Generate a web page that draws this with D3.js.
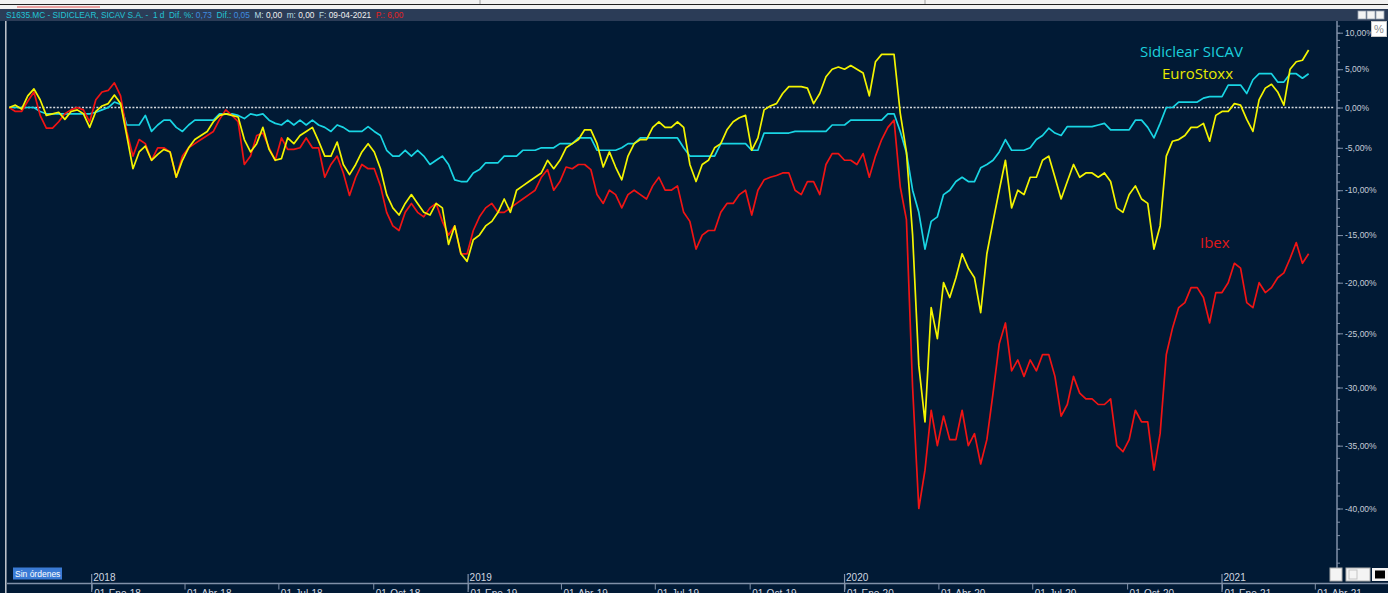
<!DOCTYPE html>
<html>
<head>
<meta charset="utf-8">
<script src="https://cdn.jsdelivr.net/npm/d3@7"></script>
<style>
  body { margin: 0; background: #011a35; overflow: hidden; }
  svg { display: block; }
  text { white-space: pre; }
</style>
</head>
<body>
<div class="graph"></div>
<script>
// sample dates (every 6 days) and % change since start
var dates = d3.timeDay.range(new Date(2017, 9, 13), new Date(2021, 2, 30), 6);

var sidiclear = [
  0, 0, 0, 0, 0, -0.5, -0.8, -0.8, -0.8, -0.8,
  -0.8, -0.8, -0.8, -0.8, -0.6, -0.3, 0, 0.7, 0.4, -2.2,
  -2.2, -2.2, -1.0, -3.0, -2.2, -1.6, -1.6, -2.5, -3.0, -2.2,
  -1.6, -1.6, -1.6, -1.6, -0.8, -0.8, -0.8, -1.0, -1.4, -0.8,
  -1.0, -0.8, -1.6, -2.0, -2.2, -1.6, -2.2, -1.6, -2.2, -1.6,
  -2.2, -2.5, -3.0, -2.2, -2.5, -3.0, -3.0, -3.0, -2.4, -3.0,
  -3.5, -5.3, -6.0, -6.0, -5.3, -6.0, -5.3, -6.0, -7.0, -6.5,
  -6.0, -7.0, -8.8, -9.0, -9.0, -8.0, -7.6, -6.8, -6.8, -6.8,
  -6.0, -6.0, -6.0, -5.3, -5.3, -5.3, -5.0, -5.0, -5.0, -4.5,
  -4.5, -4.5, -3.8, -3.8, -3.8, -5.3, -5.3, -5.3, -5.3, -5.0,
  -4.5, -4.5, -3.8, -3.8, -3.8, -3.8, -3.8, -3.8, -3.8, -5.0,
  -6.0, -6.0, -6.0, -6.0, -6.0, -4.5, -4.5, -4.5, -4.5, -4.5,
  -5.3, -5.3, -3.2, -3.2, -3.2, -3.2, -3.2, -3.0, -3.0, -3.0,
  -3.0, -3.0, -3.0, -2.2, -2.2, -2.2, -1.6, -1.6, -1.6, -1.6,
  -1.6, -1.6, -0.8, -0.8, -3.0, -5.6, -10.0, -12.5, -16.5, -13.5,
  -13.0, -10.5, -10.0, -9.0, -8.5, -9.0, -9.0, -7.4, -7.0, -6.5,
  -5.5, -4.0, -5.3, -5.3, -5.3, -5.0, -4.0, -3.5, -2.6, -3.2,
  -3.5, -2.4, -2.4, -2.4, -2.4, -2.4, -2.2, -2.0, -2.8, -2.8,
  -2.8, -2.8, -1.6, -1.6, -2.5, -3.8, -2.0, 0, 0, 0.7,
  0.7, 0.7, 0.7, 1.2, 1.4, 1.4, 1.4, 2.9, 2.9, 2.9,
  1.8, 3.6, 4.4, 4.4, 4.4, 3.3, 3.3, 4.4, 4.4, 3.8,
  4.4
];

var euroStoxx = [
  0, 0.3, -0.2, 1.5, 2.4, 1.0, -1.0, -0.8, -0.6, -1.5,
  -0.5, -0.3, -0.8, -2.5, -0.5, 0.2, 0.5, 1.6, 0.5, -3.5,
  -7.5, -5.5, -4.8, -6.5, -5.8, -5.2, -5.5, -8.5, -6.5, -5.0,
  -4.0, -3.5, -3.0, -1.8, -1.0, -0.8, -1.0, -1.2, -4.0, -5.5,
  -4.5, -2.5, -5.2, -6.5, -6.3, -3.8, -4.5, -3.5, -3.0, -2.5,
  -4.2, -6.0, -6.0, -4.3, -7.0, -8.2, -7.0, -5.5, -4.5, -5.5,
  -7.5, -10.5, -12.0, -12.8, -11.5, -10.5, -11.5, -12.5, -12.8, -11.5,
  -12.0, -16.0, -14.0, -17.0, -17.8, -15.5, -15.0, -14.0, -13.5, -12.5,
  -11.0, -12.5, -10.0, -9.5, -9.0, -8.5, -8.0, -6.5, -7.5, -6.5,
  -5.0, -4.5, -4.0, -2.8, -2.8, -4.5, -7.3, -5.5, -7.3, -8.8,
  -6.0, -4.5, -4.0, -4.0, -2.5, -1.8, -2.5, -2.5, -1.8, -2.5,
  -7.0, -9.0, -7.0, -6.5, -5.0, -4.5, -2.8, -1.8, -1.3, -1.0,
  -5.3, -3.8, -0.3, 0.2, 0.5, 1.8, 2.7, 2.7, 2.7, 2.5,
  0.5, 1.8, 4.0, 5.0, 5.3, 5.0, 5.5, 5.0, 4.5, 1.5,
  6.0, 7.0, 7.0, 7.0, -0.7, -5.5, -15.0, -28.0, -33.0, -22.5,
  -25.5, -20.0, -21.5, -19.5, -17.0, -18.5, -19.5, -23.0, -17.0, -13.5,
  -10.0, -6.5, -12.0, -10.0, -10.5, -8.5, -8.5, -6.5, -6.0, -8.5,
  -11.0, -9.0, -7.0, -8.5, -8.0, -8.0, -8.5, -8.0, -9.0, -12.0,
  -12.5, -10.5, -9.5, -11.0, -11.5, -16.5, -14.0, -6.0, -4.2, -4.0,
  -3.5, -2.5, -2.5, -2.0, -4.2, -1.0, -0.5, -0.5, 0.5, 0.3,
  -1.5, -3.0, 1.0, 2.5, 3.0, 2.0, 0.3, 5.0, 6.0, 6.2,
  7.6
];

var ibex = [
  0, -0.5, -0.5, 0.8, 2.0, -1.0, -2.6, -2.6, -1.8, -0.8,
  -0.3, 0, -0.3, -1.8, 1.0, 2.0, 2.2, 3.2, 1.5, -3.0,
  -6.0, -4.0, -4.5, -6.5, -5.0, -5.0, -5.5, -8.5, -6.0, -5.0,
  -4.5, -4.0, -3.5, -3.0, -1.5, -0.3, -1.0, -1.8, -7.0, -6.0,
  -3.5, -3.2, -5.0, -6.5, -3.8, -5.2, -5.2, -5.0, -3.8, -5.0,
  -5.0, -8.5, -7.0, -6.0, -8.0, -10.6, -8.5, -7.0, -7.5, -7.5,
  -9.5, -12.5, -14.0, -14.5, -12.5, -11.5, -12.5, -13.0, -12.0, -11.5,
  -13.5, -15.0, -14.0, -17.0, -17.0, -14.5, -13.0, -12.0, -11.5, -12.5,
  -12.5, -12.0, -11.5, -11.0, -10.5, -10.0, -8.5, -7.6, -10.0, -9.0,
  -7.3, -7.5, -7.0, -7.0, -7.6, -10.5, -11.5, -10.0, -10.5, -12.0,
  -10.5, -10.0, -10.5, -11.0, -9.5, -8.5, -10.0, -10.0, -9.5, -12.5,
  -13.5, -16.5, -15.0, -14.5, -14.5, -12.5, -11.5, -11.5, -10.5, -10.0,
  -12.8, -10.0, -8.8, -8.5, -8.3, -8.0, -8.0, -10.0, -10.5, -9.0,
  -9.0, -10.5, -7.0, -5.7, -5.7, -6.5, -6.5, -7.0, -5.7, -8.5,
  -6.0, -4.0, -2.5, -1.6, -9.6, -13.3, -30.0, -40.0, -37.0, -32.0,
  -35.0, -32.5, -34.5, -34.5, -32.0, -35.0, -34.0, -36.5, -34.5, -30.5,
  -26.0, -24.0, -28.5, -27.5, -29.0, -27.5, -28.5, -27.0, -27.0, -29.0,
  -32.5, -31.5, -29.0, -30.5, -31.0, -31.0, -31.5, -31.5, -31.0, -35.0,
  -35.5, -34.5, -32.0, -33.0, -33.0, -37.0, -34.0, -27.0, -24.5, -22.5,
  -22.0, -20.5, -20.5, -21.5, -24.0, -21.0, -21.0, -20.0, -18.0, -18.5,
  -22.0, -22.5, -20.0, -21.0, -20.5, -19.5, -19.0, -17.5, -15.8, -18.0,
  -17.0
];

var yLabelTicks = [10, 5, 0, -5, -10, -15, -20, -25, -30, -35, -40];
var monthNames = ['Ene', 'Abr', 'Jul', 'Oct'];
var years = [2018, 2019, 2020, 2021];

var width = 1388,
    height = 593;

var svg = d3.select('.graph')
  .append('svg')
  .attr('width', width)
  .attr('height', height);

// chart body
svg.append('rect')
  .attr('width', width).attr('height', height)
  .attr('fill', '#011a35');

var xScale = d3.scaleTime()
  .domain([new Date(2018, 0, 1), new Date(2021, 0, 1)])
  .range([91.7, 1222]);

var yScale = d3.scaleLog()
  .domain([1.10, 0.60])
  .range([32.7, 508.5]);

var y = (v) => yScale(1 + v / 100);

var pctFormat = d3.formatLocale({decimal: ',', thousands: '.', grouping: [3], currency: ['', '€'], minus: '-'}).format('.2f');

svg.append('clipPath').attr('id', 'plot-clip')
  .append('rect')
  .attr('x', 7).attr('y', 21)
  .attr('width', 1329).attr('height', 562);

// zero line
svg.append('line')
  .attr('x1', 10).attr('x2', 1334)
  .attr('y1', y(0)).attr('y2', y(0))
  .attr('stroke', '#d6d9de')
  .attr('stroke-width', 1.3)
  .attr('stroke-dasharray', '2,1.6');

var line = (values) => d3.line()
  .x((d, i) => xScale(dates[i]))
  .y((d) => y(d))(values);

var series = [
  {name: 'Sidiclear SICAV', values: sidiclear, color: '#19d5e4'},
  {name: 'Ibex', values: ibex, color: '#f01414'},
  {name: 'EuroStoxx', values: euroStoxx, color: '#f4f400'}
];

svg.append('g')
  .attr('clip-path', 'url(#plot-clip)')
  .selectAll('path')
  .data(series)
  .enter()
  .append('path')
  .attr('d', (d) => line(d.values))
  .attr('fill', 'none')
  .attr('stroke', (d) => d.color)
  .attr('stroke-width', 1.7)
  .attr('stroke-linejoin', 'round');

// legend labels
var labels = [
  {text: 'Sidiclear SICAV', x: 1140, y: 57, color: '#1ccfdc'},
  {text: 'EuroStoxx', x: 1162, y: 78.5, color: '#e8e800'},
  {text: 'Ibex', x: 1200, y: 248, color: '#e01818'}
];
svg.selectAll('.legend')
  .data(labels)
  .enter()
  .append('text')
  .attr('class', 'legend')
  .attr('x', (d) => d.x)
  .attr('y', (d) => d.y)
  .attr('fill', (d) => d.color)
  .style('font-family', '"Open Sans", sans-serif')
  .style('font-size', '15px')
  .text((d) => d.text);

// right axis
var axisColor = '#8090a8';
var yAxisMinor = d3.axisRight(yScale)
  .tickValues(d3.range(-44, 13).map((v) => 1 + v / 100))
  .tickSize(3)
  .tickFormat('');
svg.append('g')
  .attr('transform', 'translate(1337,0)')
  .call(yAxisMinor)
  .call((g) => g.select('.domain').remove())
  .selectAll('line').attr('stroke', axisColor);

var yAxis = d3.axisRight(yScale)
  .tickValues(yLabelTicks.map((v) => 1 + v / 100))
  .tickSize(6)
  .tickPadding(2)
  .tickFormat((d) => pctFormat((d - 1) * 100) + '%');
var yAxisGroup = svg.append('g')
  .attr('id', 'y-axis')
  .attr('transform', 'translate(1337,0)')
  .call(yAxis);
yAxisGroup.select('.domain').remove();
yAxisGroup.selectAll('line').attr('stroke', axisColor);
yAxisGroup.selectAll('text')
  .attr('fill', '#c5ccd8')
  .style('font-family', '"Liberation Sans", Arial, sans-serif')
  .style('font-size', '8.5px');

svg.append('line')
  .attr('x1', 1337).attr('x2', 1337)
  .attr('y1', 21).attr('y2', 568)
  .attr('stroke', axisColor).attr('stroke-width', 1.5);

// bottom axis
svg.append('line')
  .attr('x1', 7).attr('x2', 1388)
  .attr('y1', 583.5).attr('y2', 583.5)
  .attr('stroke', axisColor).attr('stroke-width', 1.5);

var monthTicks = d3.timeMonth.range(new Date(2018, 0, 1), new Date(2021, 3, 2), 3);
var xAxis = d3.axisBottom(xScale)
  .tickValues(monthTicks)
  .tickSize(6)
  .tickPadding(0)
  .tickFormat((d) => '01-' + monthNames[d.getMonth() / 3] + '-' + String(d.getFullYear()).slice(2));
var xAxisGroup = svg.append('g')
  .attr('id', 'x-axis')
  .attr('transform', 'translate(0,583.5)')
  .call(xAxis);
xAxisGroup.select('.domain').remove();
xAxisGroup.selectAll('line').attr('stroke', axisColor);
xAxisGroup.selectAll('text')
  .attr('text-anchor', 'start')
  .attr('x', 2)
  .attr('y', 6)
  .attr('fill', '#d0d6e0')
  .style('font-family', '"Liberation Sans", Arial, sans-serif')
  .style('font-size', '10px');

var yearG = svg.selectAll('.year')
  .data(years)
  .enter()
  .append('g')
  .attr('class', 'year')
  .attr('transform', (d) => 'translate(' + xScale(new Date(d, 0, 1)) + ',0)');
yearG.append('line')
  .attr('y1', 574).attr('y2', 592)
  .attr('stroke', axisColor).attr('stroke-width', 1.2);
yearG.append('text')
  .attr('x', 1.5).attr('y', 581)
  .attr('fill', '#d0d6e0')
  .style('font-family', '"Liberation Sans", Arial, sans-serif')
  .style('font-size', '10px')
  .text((d) => d);

// "Sin órdenes" button
svg.append('rect')
  .attr('x', 13).attr('y', 567.5)
  .attr('width', 49).attr('height', 12)
  .attr('fill', '#3a7bd5');
svg.append('text')
  .attr('x', 15).attr('y', 577)
  .attr('fill', '#ffffff')
  .style('font-family', '"Liberation Sans", Arial, sans-serif')
  .style('font-size', '8.5px')
  .text('Sin órdenes');

// bottom-right buttons
svg.append('rect').attr('x', 1330).attr('y', 568).attr('width', 12).attr('height', 13)
  .attr('fill', '#f4f4f4').attr('stroke', '#b0b0b0');
svg.append('rect').attr('x', 1346).attr('y', 568).attr('width', 24).attr('height', 13)
  .attr('fill', '#f4f4f4').attr('stroke', '#b0b0b0');
svg.append('rect').attr('x', 1349).attr('y', 570).attr('width', 8).attr('height', 9)
  .attr('fill', 'none').attr('stroke', '#c4c4c4');
svg.append('rect').attr('x', 1372).attr('y', 568).attr('width', 16).attr('height', 13)
  .attr('fill', '#f4f4f4');
svg.append('rect').attr('x', 1375).attr('y', 570.5).attr('width', 10).attr('height', 8)
  .attr('fill', '#000000');

// left border
svg.append('line')
  .attr('x1', 5.8).attr('x2', 5.8)
  .attr('y1', 0).attr('y2', height)
  .attr('stroke', '#c4c9d0').attr('stroke-width', 1.5);

// top window strip
svg.append('rect').attr('width', width).attr('height', 9).attr('fill', '#f2f2f2');
svg.append('line').attr('x1', 0).attr('x2', width).attr('y1', 4.5).attr('y2', 4.5)
  .attr('stroke', '#202020').attr('stroke-width', 1);
svg.append('line').attr('x1', 17).attr('x2', 100).attr('y1', 7).attr('y2', 7)
  .attr('stroke', '#e05050').attr('stroke-width', 1);
[480, 925].forEach((x) => {
  svg.append('line').attr('x1', x).attr('x2', x).attr('y1', 0).attr('y2', 4)
    .attr('stroke', '#a0a0a0');
});

// header bar
svg.append('rect').attr('y', 9).attr('width', width).attr('height', 12).attr('fill', '#2b3c57');
var header = svg.append('text')
  .attr('x', 6).attr('y', 18)
  .style('font-family', '"Liberation Sans", Arial, sans-serif')
  .style('font-size', '8.3px');
[
  ['S1635.MC - SIDICLEAR, SICAV S.A. -  1 d  Dif. %: ', '#22c4d6'],
  ['0,73', '#3f8de0'],
  ['  Dif.: ', '#22c4d6'],
  ['0,05', '#3f8de0'],
  ['  M: ', '#b8dce4'],
  ['0,00', '#f0f0f0'],
  ['  m: ', '#b8dce4'],
  ['0,00', '#f0f0f0'],
  ['  F: ', '#b8dce4'],
  ['09-04-2021', '#f0f0f0'],
  ['  P.: 6,00', '#e82020']
].forEach((p) => {
  header.append('tspan').attr('fill', p[1]).text(p[0]);
});

// window buttons
[1358, 1367, 1376].forEach((x) => {
  svg.append('rect').attr('x', x).attr('y', 11).attr('width', 8).attr('height', 8)
    .attr('fill', '#f4f4f4').attr('stroke', '#9aa4b2').attr('stroke-width', 0.8);
});

// "%" box
svg.append('rect').attr('x', 1371.5).attr('y', 21.5).attr('width', 15).attr('height', 15)
  .attr('fill', '#ffffff').attr('stroke', '#c8c8c8');
svg.append('text')
  .attr('x', 1379).attr('y', 33)
  .attr('text-anchor', 'middle')
  .attr('fill', '#8a8a8a')
  .style('font-family', '"Liberation Sans", Arial, sans-serif')
  .style('font-size', '11px')
  .text('%');
</script>
</body>
</html>
